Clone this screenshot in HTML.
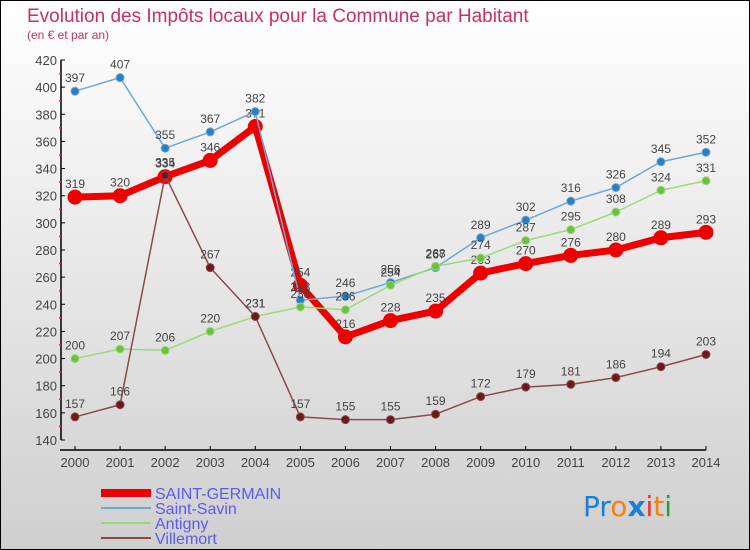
<!DOCTYPE html>
<html><head><meta charset="utf-8"><style>
body{margin:0}
#c{width:750px;height:550px;position:relative;overflow:hidden;font-family:"Liberation Sans",sans-serif}
</style></head><body>
<div id="c">
<svg id="s" width="750" height="550" xmlns="http://www.w3.org/2000/svg">
<defs><linearGradient id="bg" x1="0" y1="0" x2="0" y2="1"><stop offset="0" stop-color="#ffffff"/><stop offset="1" stop-color="#cfcfcf"/></linearGradient></defs>
<rect x="0.5" y="0.5" width="749" height="549" fill="url(#bg)" stroke="#000"/>
<text x="27" y="22" font-size="19" fill="#c8305e">Evolution des Impôts locaux pour la Commune par Habitant</text>
<text x="27" y="39" font-size="12" fill="#c8305e">(en € et par an)</text>
<g id="axes"></g><g id="plot"></g>
<g>
<line x1="101" y1="493" x2="151" y2="493" stroke="#e00" stroke-width="8"/>
<text x="155" y="499" font-size="16" fill="#5b5bf0">SAINT-GERMAIN</text>
<line x1="101" y1="508" x2="151" y2="508" stroke="#6fa8d0" stroke-width="2"/>
<text x="155" y="514" font-size="16" fill="#5b5bf0">Saint-Savin</text>
<line x1="101" y1="523" x2="151" y2="523" stroke="#9fd87a" stroke-width="2"/>
<text x="155" y="529" font-size="16" fill="#5b5bf0">Antigny</text>
<line x1="101" y1="538" x2="151" y2="538" stroke="#8a4a4a" stroke-width="2"/>
<text x="155" y="544" font-size="16" fill="#5b5bf0">Villemort</text>
</g>
<g font-size="28" font-family="DejaVu Sans, sans-serif">
<text x="583" y="516"><tspan fill="#1a7fd6">Pr</tspan><tspan fill="#f5820f">o</tspan><tspan fill="#1a7fd6" font-weight="bold">x</tspan><tspan fill="#e83030">i</tspan><tspan fill="#f5820f">t</tspan><tspan fill="#2a9a40">i</tspan></text>
</g>
</svg></div>
<script>
const years=[2000,2001,2002,2003,2004,2005,2006,2007,2008,2009,2010,2011,2012,2013,2014];
const saintGermain=[319,320,334,346,371,254,216,228,235,263,270,276,280,289,293];
const saintSavin=[397,407,355,367,382,243,246,256,267,289,302,316,326,345,352];
const antigny=[200,207,206,220,231,238,236,254,268,274,287,295,308,324,331];
const villemort=[157,166,335,267,231,157,155,155,159,172,179,181,186,194,203];
const yTicks=[140,160,180,200,220,240,260,280,300,320,340,360,380,400,420];
const NS="http://www.w3.org/2000/svg";
const X=i=>75+i*(706-75)/(years.length-1);
const Y=v=>440-(v-140)*380/280;
function mk(t,a,p){const e=document.createElementNS(NS,t);for(const k in a)e.setAttribute(k,a[k]);p.appendChild(e);return e;}
const ax=document.getElementById('axes'),pl=document.getElementById('plot');
const ya=mk('line',{x1:61,y1:Y(420),x2:61,y2:Y(140),stroke:'#000','stroke-width':1.5},ax);

for(let v=150;v<420;v+=20){mk('line',{x1:59,x2:61,y1:Y(v),y2:Y(v),stroke:'#e33','stroke-width':1.5},ax);}
yTicks.forEach(v=>{mk('line',{x1:61,x2:65,y1:Y(v),y2:Y(v),stroke:'#000'},ax);
const t=mk('text',{x:57,y:Y(v)+5,'text-anchor':'end','font-size':13,fill:'#444'},ax);t.textContent=v;
});
const xa=mk('line',{x1:X(0)-15,y1:450,x2:X(14),y2:450,stroke:'#000','stroke-width':1.5},ax);

years.forEach((y,i)=>{mk('line',{x1:X(i),x2:X(i),y1:446,y2:450,stroke:'#000'},ax);
const t=mk('text',{x:X(i),y:467,'text-anchor':'middle','font-size':13,fill:'#444'},ax);t.textContent=y;
});
function series(name,data,color,dot,w,r){
const g=mk('g',{},pl);
mk('polyline',{points:data.map((v,i)=>X(i)+','+Y(v)).join(' '),fill:'none',stroke:color,'stroke-width':w,'stroke-linejoin':'round'},g);
data.forEach((v,i)=>{const c=mk('circle',{cx:X(i),cy:Y(v),r:r,fill:dot,stroke:color,'stroke-width':1},g);

const t=mk('text',{x:X(i),y:Y(v)-9,'text-anchor':'middle','font-size':12,fill:'#444'},g);t.textContent=v;
});}
series('saint-germain',saintGermain,'#ee0000','#ee0000',7,7);
series('saint-savin',saintSavin,'#6fa8d0','#2a7fc0',1.5,4);
series('antigny',antigny,'#9fd87a','#6cc040',1.5,4);
series('villemort',villemort,'#8a4a4a','#6a1a1a',1.5,4);
</script>
</body></html>
